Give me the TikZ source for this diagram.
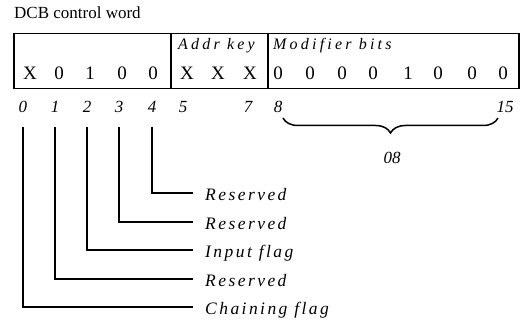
\documentclass[tikz,border=0pt]{standalone}
\usepackage{fontspec}
\setmainfont{Liberation Serif}
\usetikzlibrary{decorations.pathreplacing,calc}
\begin{document}
\begin{tikzpicture}[x=1pt,y=-1pt,
  bit/.style={font=\fontsize{19}{19}\selectfont, inner sep=0pt, anchor=base},
  num/.style={font=\fontsize{17}{17}\selectfont\itshape, inner sep=0pt, anchor=base},
  hdr/.style={font=\fontsize{16}{16}\selectfont\itshape\addfontfeatures{LetterSpace=20}, inner sep=0pt, anchor=base west},
  lab/.style={font=\fontsize{17.5}{17.5}\selectfont\itshape\addfontfeatures{LetterSpace=14}, inner sep=0pt, anchor=base west},
  frame/.style={line width=1.5pt},
  conn/.style={line width=1.3pt}]
\useasboundingbox (0,0) rectangle (520,323);
% title
\node[anchor=base west, inner sep=0pt, font=\fontsize{17}{17}\selectfont] (title) at (14,19) {DCB control word};
% word box
\node[draw, frame, minimum width=505pt, minimum height=55pt, anchor=north west, inner sep=0pt] (word) at (13,33) {};
\draw[frame] (171,33) -- (171,88);
\draw[frame] (268,33) -- (268,88);
% headers
\node[hdr] (hk) at (178,50) {Addr key};
\node[hdr] (hm) at (273,50) {Modifier bits};
% bits
\foreach \x/\t [count=\i] in {30/X,59/0,90/1,122/0,153/0,187/X,218/X,250/X,278/0,310/0,342/0,373/0,408/1,438/0,472/0,503/0}
  \node[bit] (v\i) at (\x,80) {\t};
% bit numbers
\foreach \x/\t in {23/0,55/1,87/2,119/3,152/4,183/5,248/7,278/8,505/15}
  \node[num] (n\t) at (\x,113) {\t};
% brace
\draw[decorate, decoration={brace, amplitude=15pt}, line width=1.5pt] (498,118) -- (283,118);
\node[num, anchor=center] (hex) at (392,158) {08};
% labels
\node[lab] (l4) at (205,201) {Reserved};
\node[lab] (l3) at (205,230) {Reserved};
\node[lab] (l2) at (205,258) {Input flag};
\node[lab] (l1) at (205,287) {Reserved};
\node[lab] (l0) at (205,315) {Chaining flag};
% connectors
\foreach \i in {0,...,4}
  \draw[conn] ($(n\i.base)+(0,14)$) |- ($(l\i.base west)+(-12,-8)$);
\end{tikzpicture}
\end{document}
